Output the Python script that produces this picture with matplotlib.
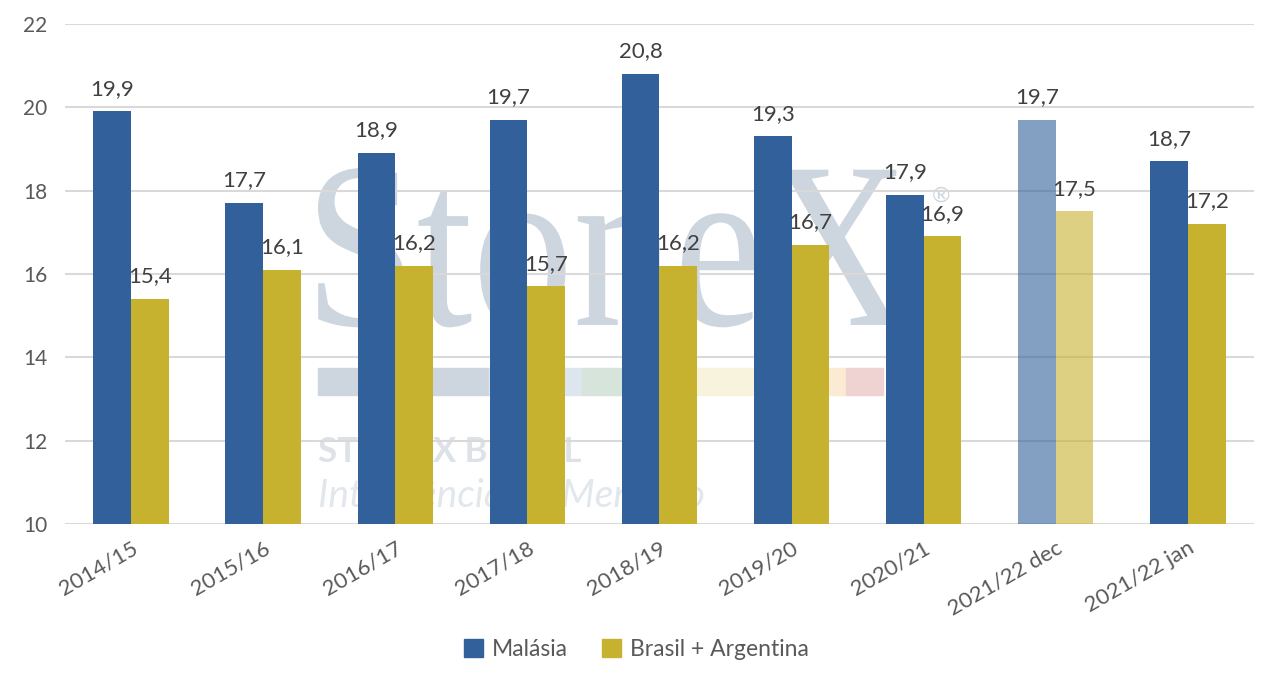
"""
Malásia vs Brasil + Argentina, grouped bars with StoneX watermark
"""
import matplotlib.pyplot as plt
import numpy as np
from matplotlib.patches import Rectangle, PathPatch
from matplotlib.textpath import TextPath
from matplotlib.font_manager import FontProperties
from matplotlib.transforms import Affine2D

plt.rcParams['font.family'] = ['Lato', 'DejaVu Sans']

categorias = ['2014/15', '2015/16', '2016/17', '2017/18', '2018/19',
              '2019/20', '2020/21', '2021/22 dec', '2021/22 jan']
malasia = [19.9, 17.7, 18.9, 19.7, 20.8, 19.3, 17.9, 19.7, 18.7]
brasil_argentina = [15.4, 16.1, 16.2, 15.7, 16.2, 16.7, 16.9, 17.5, 17.2]
yticks = [10, 12, 14, 16, 18, 20, 22]

azul = '#31609a'
ouro = '#c7b22f'
texto = '#404040'
W, H = 1273, 683

fig = plt.figure(figsize=(W / 100, H / 100), dpi=100)
ax = fig.add_axes([0.051, 0.233, 0.934, 0.732])
ax.patch.set_alpha(0)

# marca d'agua (fundo), em pixels da figura
cinza = '#cdd6df'
tp = TextPath((0, 0), 'StoneX', size=1, prop=FontProperties(family='Liberation Serif'))
ext = tp.get_extents()
sx = 587 / ext.width
sy = 157 / 0.662
tr = Affine2D().translate(-ext.x0, 0).scale(sx, sy).translate(318, H - 325)
tr = tr + Affine2D().scale(1 / W, 1 / H) + fig.transFigure
fig.patches.append(PathPatch(tp, transform=tr, color=cinza, lw=0, zorder=-1))
fig.text(932 / W, 1 - 202 / H, '®', fontsize=16, color=cinza, zorder=-1)
faixa = [(318, 489, '#cdd6df'), (489, 582, '#dde5ee'), (582, 650, '#d6e4dc'),
         (650, 790, '#f8f3dc'), (790, 846, '#fbebd3'), (846, 883, '#efd3d3')]
for x0, x1, c in faixa:
    fig.patches.append(Rectangle((x0 / W, 1 - 395 / H), (x1 - x0) / W, 27 / H,
                                 transform=fig.transFigure, color=c, zorder=-1))
fig.text(318 / W, 1 - 462 / H, 'STONEX BRASIL', fontsize=25, weight='bold',
         color='#dde2e8', zorder=-1)
fig.text(318 / W, 1 - 507 / H, 'Inteligência de Mercado', fontsize=28,
         style='italic', color='#e2e7ed', zorder=-1)

x = np.arange(len(categorias))
w = 0.285
alphas = [0.6 if c.endswith('dec') else 1.0 for c in categorias]

for i in range(len(categorias)):
    ax.bar(x[i] - w / 2, malasia[i], w, color=azul, alpha=alphas[i], zorder=2)
    ax.bar(x[i] + w / 2, brasil_argentina[i], w, color=ouro, alpha=alphas[i], zorder=2)
    ax.annotate(f'{malasia[i]:.1f}'.replace('.', ','), (x[i] - w / 2, malasia[i]),
                xytext=(0, 9), textcoords='offset points', ha='center', va='bottom',
                fontsize=16, color=texto, zorder=3)
    ax.annotate(f'{brasil_argentina[i]:.1f}'.replace('.', ','), (x[i] + w / 2, brasil_argentina[i]),
                xytext=(0, 9), textcoords='offset points', ha='center', va='bottom',
                fontsize=16, color=texto, zorder=3)

ax.set_ylim(10, 22)
ax.set_xlim(-0.5, len(categorias) - 0.5)
ax.set_yticks(yticks)
ax.set_yticklabels([str(t) for t in yticks], fontsize=15, color='#595959')
ax.set_xticks(x)
ax.set_xticklabels(categorias, rotation=30, ha='right', rotation_mode='anchor',
                   fontsize=16, color='#595959')
ax.tick_params(length=0, axis='both')
ax.tick_params(axis='x', pad=10)
ax.tick_params(axis='y', pad=30)
for t in ax.get_yticklabels():
    t.set_horizontalalignment('left')
ax.grid(axis='y', color='#d9d9d9', linewidth=1.5, zorder=1)
ax.set_axisbelow(True)
for s in ax.spines.values():
    s.set_visible(False)

h1 = Rectangle((0, 0), 1, 1, color=azul)
h2 = Rectangle((0, 0), 1, 1, color=ouro)
fig.legend([h1, h2], ['Malásia', 'Brasil + Argentina'], loc='center',
           bbox_to_anchor=(0.5, 0.049), ncol=2, frameon=False, fontsize=16.5,
           handlelength=0.8, handleheight=0.8, handletextpad=0.4, columnspacing=1.5,
           labelcolor='#595959')

plt.savefig('out.png', dpi=100)
